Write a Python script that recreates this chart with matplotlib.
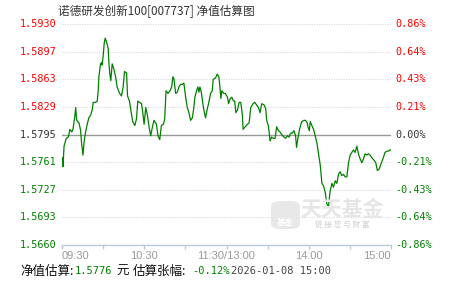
import matplotlib
matplotlib.use('Agg')
import matplotlib.pyplot as plt
import numpy as np
from matplotlib.patches import FancyBboxPatch

plt.rcParams['font.family'] = ['Noto Sans CJK SC', 'DejaVu Sans']

title = '诺德研发创新100[007737] 净值估算图'

# minutes since 09:30 (lunch break removed), estimated change in %
minutes = [0.2, 0.7, 1.5, 3.1, 4.6, 5.8, 7.1, 8.0, 9.2, 10.0, 10.7, 12.4, 13.6, 14.3, 15.3,
           16.2, 17.2, 18.4, 19.6, 20.9, 22.0, 22.8, 24.5, 25.7, 26.4, 26.9, 28.1, 28.9, 29.3,
           30.0, 30.8, 31.5, 32.5, 33.7, 34.2, 34.9, 35.6, 36.6, 37.8, 39.1, 40.2, 42.0, 43.4,
           44.6, 45.6, 47.1, 47.8, 49.2, 50.2, 51.6, 53.1, 54.3, 55.3, 56.5, 58.0, 58.7, 59.9,
           61.1, 62.3, 63.5, 64.7, 66.0, 67.1, 68.9, 70.0, 71.3, 72.5, 74.0, 74.9, 75.9, 77.3,
           78.8, 80.0, 80.9, 81.7, 82.9, 84.1, 85.3, 86.5, 87.8, 88.9, 90.2, 91.4, 92.6, 93.8,
           95.1, 96.2, 96.9, 98.2, 99.1, 99.9, 100.6, 101.6, 102.5, 103.5, 104.7, 106.0, 107.1,
           108.4, 109.6, 110.3, 112.0, 113.2, 114.4, 115.1, 115.9, 116.6, 118.0, 119.1, 120.7,
           121.5, 122.7, 123.9, 125.1, 126.0, 126.8, 128.0, 129.2, 130.4, 131.6, 132.1, 133.6,
           135.3, 136.5, 137.7, 139.4, 140.6, 142.0, 143.3, 144.5, 145.7, 147.4, 148.6, 149.3,
           150.5, 151.8, 152.9, 154.2, 155.4, 156.6, 157.8, 159.1, 160.2, 162.0, 163.1, 164.4,
           165.6, 166.8, 168.0, 169.2, 170.4, 171.1, 172.4, 173.3, 174.8, 176.5, 177.7, 178.9,
           179.4, 180.4, 181.1, 182.3, 183.5, 184.7, 186.0, 187.1, 188.4, 189.6, 190.8, 192.0,
           193.2, 194.4, 195.6, 196.9, 198.0, 199.3, 200.5, 201.7, 202.9, 204.1, 205.3, 206.6,
           207.8, 209.0, 210.2, 211.4, 212.6, 213.8, 215.1, 216.2, 217.5, 218.7, 219.9, 221.1,
           222.3, 223.5, 224.7, 226.0, 227.6, 228.9, 230.0, 231.3, 232.7, 234.4, 235.6, 236.9,
           238.0, 239.3, 240.0]
change = [-0.18, -0.25, -0.09, -0.03, -0.02, 0.04, 0.02, 0.04, 0.13, 0.21, 0.11, 0.09, 0.03, -0.07, -0.16,
          -0.05, 0.02, 0.08, 0.13, 0.15, 0.19, 0.25, 0.25, 0.26, 0.34, 0.45, 0.55, 0.56, 0.54,
          0.61, 0.71, 0.75, 0.72, 0.67, 0.56, 0.47, 0.42, 0.55, 0.51, 0.45, 0.37, 0.32, 0.30,
          0.37, 0.49, 0.48, 0.30, 0.26, 0.19, 0.10, 0.07, 0.12, 0.26, 0.25, 0.24, 0.19, 0.08,
          0.21, 0.15, 0.06, -0.01, 0.06, 0.11, 0.08, -0.01, -0.04, 0.07, 0.08, 0.12, 0.34, 0.32,
          0.34, 0.37, 0.45, 0.43, 0.32, 0.33, 0.37, 0.39, 0.39, 0.40, 0.29, 0.21, 0.17, 0.11,
          0.13, 0.21, 0.29, 0.34, 0.37, 0.33, 0.37, 0.33, 0.26, 0.19, 0.13, 0.20, 0.25,
          0.32, 0.34, 0.43, 0.44, 0.47, 0.45, 0.38, 0.28, 0.34, 0.32, 0.32, 0.29,
          0.24, 0.28, 0.29, 0.26, 0.26, 0.17, 0.19, 0.25, 0.25, 0.15, 0.04, 0.06,
          0.08, 0.09, 0.21, 0.24, 0.25, 0.23, 0.21, 0.17, 0.24, 0.23, 0.20, 0.11,
          0.07, -0.05, -0.02, -0.03, -0.03, 0.06, 0.03, 0.02, 0.00, -0.02, -0.03, -0.01,
          -0.02, 0.01, 0.01, 0.03, -0.01, -0.10, -0.01, 0.04, 0.10, 0.11, 0.11, 0.09,
          0.06, 0.03, 0.10, 0.07, 0.04, -0.01, -0.07, -0.15, -0.24, -0.38, -0.40, -0.45,
          -0.54, -0.56, -0.44, -0.38, -0.41, -0.36, -0.38, -0.31, -0.29, -0.32, -0.31, -0.33,
          -0.33, -0.22, -0.16, -0.14, -0.12, -0.14, -0.09, -0.15, -0.19, -0.22, -0.19, -0.15,
          -0.16, -0.15, -0.16, -0.18, -0.20, -0.22, -0.28, -0.27, -0.23, -0.18, -0.14, -0.13,
          -0.13, -0.12, -0.12]

nav_labels = ['1.5930', '1.5897', '1.5863', '1.5829', '1.5795', '1.5761', '1.5727', '1.5693', '1.5660']
pct_labels = ['0.86%', '0.64%', '0.43%', '0.21%', '0.00%', '-0.21%', '-0.43%', '-0.64%', '-0.86%']
time_ticks = [0, 30, 60, 90, 120, 150, 180, 210, 240]
time_labels = ['09:30', '', '10:30', '', '11:30/13:00', '', '14:00', '', '15:00']

est_nav = '1.5776'
est_change = '-0.12%'
stamp = '2026-01-08 15:00'

RED = '#ff0000'
GREEN = '#008000'
W, H = 451, 281

fig = plt.figure(figsize=(W / 100, H / 100), dpi=100)
ax = fig.add_axes([62 / W, 1 - 245 / H, 329 / W, 221 / H])

levels = np.linspace(0.86, -0.86, 9)
for lv in levels:
    if abs(lv) < 1e-9:
        ax.axhline(lv, color='#999999', lw=1.0, zorder=1)
    elif lv > -0.86:
        ax.axhline(lv, color='#d9d9d9', lw=0.8, ls=(0, (1, 1.2)), zorder=1)

ax.plot(minutes, change, color=GREEN, lw=0.9, zorder=3)

ax.set_xlim(0, 240)
ax.set_ylim(-0.86, 0.86)
for s in ['top', 'left', 'right']:
    ax.spines[s].set_visible(False)
ax.spines['bottom'].set_color('#bccbd8')
ax.spines['bottom'].set_linewidth(1.0)

ax.set_xticks(time_ticks)
ax.set_xticklabels(time_labels, fontfamily='Liberation Sans', fontsize=8, color='#9a9a9a')
ax.tick_params(axis='x', direction='out', length=3, width=1, color='#bccbd8', pad=1)
tl = ax.get_xticklabels()
tl[0].set_ha('left')
tl[-1].set_ha('right')

ax.set_yticks([])


def level_color(i):
    if i < 4:
        return RED
    if i == 4:
        return '#333333'
    return GREEN


for i, lv in enumerate(levels):
    c = level_color(i)
    ax.text(-0.017, lv, nav_labels[i], transform=ax.get_yaxis_transform(), ha='right', va='center',
            fontfamily='DejaVu Sans Mono', fontsize=7.3, color=c)
    ax.text(1.013, lv, pct_labels[i], transform=ax.get_yaxis_transform(), ha='left', va='center',
            fontfamily='DejaVu Sans Mono', fontsize=7.3, color=c)

fig.text(58 / W, 1 - 11 / H, title, fontsize=8.4, color='#333333', va='center', ha='left')

# watermark
logo = FancyBboxPatch((271 / W, 1 - 229 / H), 29 / W, 28 / H, boxstyle='round,pad=0,rounding_size=0.02',
                      transform=fig.transFigure, facecolor='#e8e8e8', edgecolor='none', zorder=0)
fig.patches.append(logo)
fig.text(285.5 / W, 1 - 222 / H, '基金', fontsize=6, color='white', ha='center', va='center',
         fontweight='bold')
fig.text(342 / W, 1 - 209 / H, '天天基金', fontsize=15, color='#e6e6e6', ha='center', va='center',
         fontweight='bold', zorder=0)
fig.text(342 / W, 1 - 225 / H, '链 接 您 与 财 富', fontsize=5.5, color='#cfcfcf', ha='center', va='center')

# footer
yb = 1 - 271 / H
fig.text(20 / W, yb, '净值估算:', fontsize=9, color='#111111', va='center')
fig.text(75 / W, yb, est_nav, fontfamily='DejaVu Sans Mono', fontsize=7.5, color=GREEN, va='center')
fig.text(116 / W, yb, '元', fontsize=9, color='#111111', va='center')
fig.text(133 / W, yb, '估算张幅:', fontsize=9, color='#111111', va='center')
fig.text(192 / W, yb, est_change, fontfamily='DejaVu Sans Mono', fontsize=7.5, color=GREEN, va='center')
fig.text(231 / W, yb, stamp, fontfamily='DejaVu Sans Mono', fontsize=7.5, color='#444444', va='center')

fig.savefig('out.png', dpi=100)
